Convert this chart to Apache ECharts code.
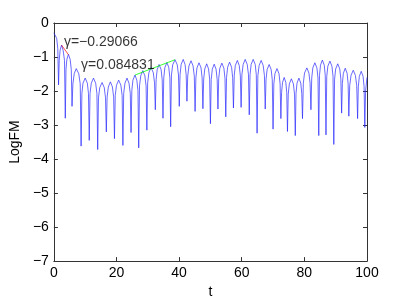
<!DOCTYPE html>
<html><head><meta charset="utf-8">
<script src="https://cdn.jsdelivr.net/npm/echarts@6/dist/echarts.min.js"></script>
<style>html,body{margin:0;padding:0;background:#fff}#c{width:405px;height:304px}</style>
</head><body><div id="c"></div>
<script>
// LogFM curve: [t, LogFM]
const logFM = [
 [0,-0.29],[0.5,-0.34],[0.9,-0.45],[1.25,-0.75],[1.5,-1.82],
 [1.72,-1.1],[2.0,-0.8],[2.45,-0.65],[2.95,-0.8],[3.4,-1.1],[3.65,-2.8],
 [3.87,-1.37],[4.15,-1.07],[4.65,-0.92],[5.2,-1.07],[5.57,-1.37],[5.8,-2.45],
 [6.08,-1.79],[6.5,-1.49],[7.15,-1.34],[7.95,-1.49],[8.42,-1.79],[8.7,-3.62],
 [8.95,-2.07],[9.3,-1.77],[10.0,-1.62],[10.7,-1.77],[11.05,-2.07],[11.3,-3.45],
 [11.55,-2.07],[11.95,-1.77],[12.65,-1.62],[13.35,-1.77],[13.75,-2.07],[14.0,-3.72],
 [14.25,-2.2],[14.65,-1.9],[15.4,-1.75],[16.1,-1.9],[16.5,-2.2],[16.75,-3.2],
 [17.0,-2.18],[17.4,-1.88],[18.05,-1.73],[18.7,-1.88],[19.1,-2.18],[19.35,-3.4],
 [19.6,-2.13],[20.0,-1.83],[20.7,-1.68],[21.4,-1.83],[21.8,-2.13],[22.05,-3.6],
 [22.3,-2.07],[22.7,-1.77],[23.35,-1.62],[24.0,-1.77],[24.4,-2.07],[24.65,-3.22],
 [24.9,-1.98],[25.25,-1.68],[25.9,-1.53],[26.5,-1.68],[26.85,-1.98],[27.1,-3.67],
 [27.35,-1.85],[27.75,-1.55],[28.4,-1.4],[29.05,-1.55],[29.45,-1.85],[29.7,-3.15],
 [29.95,-1.76],[30.35,-1.46],[31.05,-1.31],[31.75,-1.46],[32.15,-1.76],[32.4,-2.55],
 [32.65,-1.67],[33.0,-1.37],[33.6,-1.22],[34.25,-1.37],[34.6,-1.67],[34.85,-2.8],
 [35.1,-1.61],[35.45,-1.31],[36.1,-1.16],[36.7,-1.31],[37.05,-1.61],[37.3,-3.05],
 [37.55,-1.53],[37.95,-1.23],[38.7,-1.08],[39.4,-1.23],[39.8,-1.53],[40.05,-2.45],
 [40.3,-1.52],[40.65,-1.22],[41.3,-1.07],[41.9,-1.22],[42.25,-1.52],[42.5,-2.3],
 [42.75,-1.56],[43.15,-1.26],[43.8,-1.11],[44.45,-1.26],[44.85,-1.56],[45.1,-2.6],
 [45.35,-1.62],[45.7,-1.32],[46.35,-1.17],[47.0,-1.32],[47.35,-1.62],[47.6,-2.52],
 [47.85,-1.65],[48.2,-1.35],[48.8,-1.2],[49.4,-1.35],[49.75,-1.65],[50.0,-2.96],
 [50.25,-1.66],[50.6,-1.36],[51.2,-1.21],[51.8,-1.36],[52.15,-1.66],[52.4,-2.53],
 [52.65,-1.63],[53.0,-1.33],[53.65,-1.18],[54.3,-1.33],[54.65,-1.63],[54.9,-2.76],
 [55.15,-1.6],[55.5,-1.3],[56.1,-1.15],[56.75,-1.3],[57.1,-1.6],[57.35,-2.5],
 [57.6,-1.55],[57.95,-1.25],[58.6,-1.1],[59.2,-1.25],[59.55,-1.55],[59.8,-2.48],
 [60.05,-1.52],[60.45,-1.22],[61.1,-1.07],[61.75,-1.22],[62.15,-1.52],[62.4,-2.7],
 [62.65,-1.52],[63.0,-1.22],[63.65,-1.07],[64.3,-1.22],[64.65,-1.52],[64.9,-3.24],
 [65.15,-1.55],[65.55,-1.25],[66.2,-1.1],[66.85,-1.25],[67.25,-1.55],[67.5,-2.53],
 [67.75,-1.67],[68.1,-1.37],[68.75,-1.22],[69.4,-1.37],[69.75,-1.67],[70.0,-3.12],
 [70.25,-1.79],[70.6,-1.49],[71.25,-1.34],[71.9,-1.49],[72.25,-1.79],[72.5,-2.81],
 [72.72,-2.05],[73.02,-1.75],[73.55,-1.6],[74.08,-1.75],[74.38,-2.05],[74.6,-3.19],
 [74.85,-2.09],[75.2,-1.79],[75.85,-1.64],[76.5,-1.79],[76.85,-2.09],[77.1,-3.31],
 [77.33,-2.07],[77.65,-1.77],[78.25,-1.62],[78.85,-1.77],[79.17,-2.07],[79.4,-2.81],
 [79.67,-1.77],[80.05,-1.47],[80.8,-1.32],[81.45,-1.47],[81.83,-1.77],[82.1,-2.55],
 [82.35,-1.62],[82.7,-1.32],[83.35,-1.17],[84.0,-1.32],[84.35,-1.62],[84.6,-3.31],
 [84.83,-1.54],[85.15,-1.24],[85.75,-1.09],[86.35,-1.24],[86.67,-1.54],[86.9,-3.29],
 [87.15,-1.57],[87.5,-1.27],[88.15,-1.12],[88.8,-1.27],[89.15,-1.57],[89.4,-3.57],
 [89.65,-1.65],[90.0,-1.35],[90.65,-1.2],[91.3,-1.35],[91.65,-1.65],[91.9,-2.65],
 [92.13,-1.78],[92.45,-1.48],[93.05,-1.33],[93.65,-1.48],[93.97,-1.78],[94.2,-2.74],
 [94.48,-1.84],[94.9,-1.54],[95.6,-1.39],[96.3,-1.54],[96.72,-1.84],[97.0,-2.81],
 [97.23,-1.87],[97.55,-1.57],[98.15,-1.42],[98.75,-1.57],[99.07,-1.87],[99.3,-3.07],
 [99.55,-2.0],[100,-1.6]
];
// fitted decay / growth segments
const fitRed = [[2.45,-0.65],[4.65,-0.93]];
const fitGreen = [[25.9,-1.53],[38.7,-1.08]];
// annotations: [t, LogFM, text]
const notes = [[3.2,-0.56,'γ=−0.29066'],[8.7,-1.23,'γ=0.084831']];
const xTicks = {min:0, max:100, interval:20};
const yTicks = {min:-7, max:0, interval:1};

const FONT = 'Liberation Sans, Arial, Helvetica, sans-serif';
const FS = 14;
const axisCol = '#333';
const fmtMinus = v => String(v).replace('-', '\u2212');
const chart = echarts.init(document.getElementById('c'), null, {renderer:'canvas'});
const baseAxis = {
  axisLine:{show:true, onZero:false, lineStyle:{color:axisCol, width:1}},
  axisTick:{show:true, inside:true, length:4, lineStyle:{color:axisCol}},
  splitLine:{show:false}
};
chart.setOption({
  animation:false,
  grid:{left:53, right:38, top:23, bottom:35, containLabel:false},
  xAxis:[
    Object.assign({type:'value', position:'bottom', min:xTicks.min, max:xTicks.max, interval:xTicks.interval,
      name:'t', nameLocation:'middle', nameGap:22,
      nameTextStyle:{fontFamily:FONT, fontSize:FS, color:'#000'},
      axisLabel:{fontFamily:FONT, fontSize:FS, color:'#000', margin:5}}, baseAxis),
    Object.assign({type:'value', position:'top', min:xTicks.min, max:xTicks.max, interval:xTicks.interval,
      axisLabel:{show:false}}, baseAxis)
  ],
  yAxis:[
    Object.assign({type:'value', position:'left', min:yTicks.min, max:yTicks.max, interval:yTicks.interval,
      name:'LogFM', nameLocation:'middle', nameGap:26,
      nameTextStyle:{fontFamily:FONT, fontSize:FS, color:'#000'},
      axisLabel:{fontFamily:FONT, fontSize:FS, color:'#000', margin:5, formatter:fmtMinus}}, baseAxis),
    Object.assign({type:'value', position:'right', min:yTicks.min, max:yTicks.max, interval:yTicks.interval,
      axisLabel:{show:false}}, baseAxis)
  ],
  series:[
    {type:'line', data:logFM, showSymbol:false, symbol:'none', sampling:null,
      lineStyle:{color:'#2a2aff', width:0.7}, z:2},
    {type:'line', data:fitRed, showSymbol:false, symbol:'none',
      lineStyle:{color:'#ff0000', width:0.7}, z:3},
    {type:'line', data:fitGreen, showSymbol:false, symbol:'none',
      lineStyle:{color:'#00ff00', width:0.8}, z:3},
    {type:'scatter', data:notes, symbolSize:0, z:4,
      label:{show:true, position:'right', distance:0, formatter:p=>p.data[2],
        fontFamily:FONT, fontSize:FS, color:'#000'}}
  ]
});
</script></body></html>
